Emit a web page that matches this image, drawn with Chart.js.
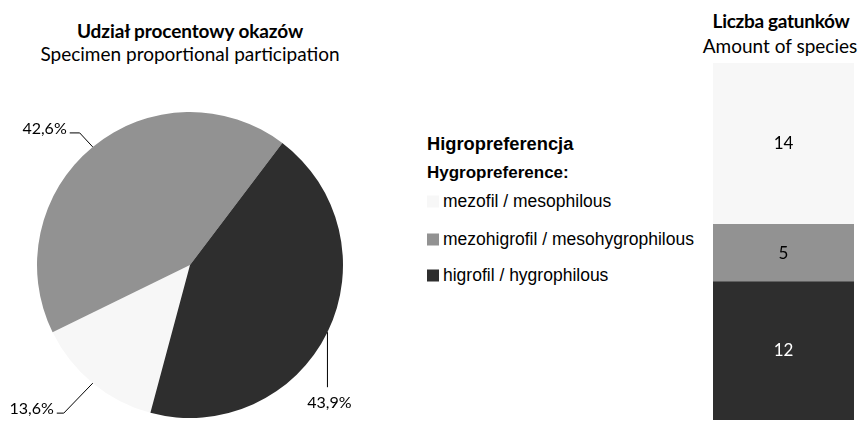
<!DOCTYPE html>
<html>
<head>
<meta charset="utf-8">
<script src="https://cdn.jsdelivr.net/npm/chart.js@4.4.0/dist/chart.umd.min.js"></script>
<style>
  body { margin: 0; background: #fff; }
  #page { position: relative; width: 859px; height: 423px; overflow: hidden; font-family: Lato, sans-serif; color: #000; }
  .t { position: absolute; white-space: nowrap; transform: translate(-50%, -50%); }
  .b { font-weight: bold; }
  #pieBox { position: absolute; left: 0; top: 100px; width: 380px; height: 323px; }
  #barBox { position: absolute; left: 713px; top: 63px; width: 141px; height: 357px; }
  #legend { position: absolute; left: 427px; top: 0; font-family: "Liberation Sans", Arial, sans-serif; }
  .lg { position: absolute; white-space: nowrap; transform: translateY(-50%); font-size: 17.5px; }
  .sw { display: inline-block; width: 12px; height: 12px; margin-right: 4px; vertical-align: -1px; }
</style>
</head>
<body>
<div id="page">
  <div class="t b" style="left:190px;top:30px;font-size:19px;letter-spacing:-0.1px">Udział procentowy okazów</div>
  <div class="t" style="left:190px;top:53px;font-size:19px">Specimen proportional participation</div>
  <div class="t b" style="left:781px;top:20px;font-size:19px;letter-spacing:-0.3px">Liczba gatunków</div>
  <div class="t" style="left:780px;top:45px;font-size:19px">Amount of species</div>

  <div id="pieBox"><canvas id="pie"></canvas></div>
  <div id="legend"></div>
  <div id="barBox"><canvas id="bar"></canvas></div>
</div>

<script>
// categories (legend order)
const categories = ["mezofil / mesophilous", "mezohigrofil / mesohygrophilous", "higrofil / hygrophilous"];
const specimenPercent = [13.6, 42.6, 43.9];
const percentLabels = ["13,6%", "42,6%", "43,9%"];
const speciesCount = [14, 5, 12];
const legendTitle = "Higropreferencja";
const legendSubtitle = "Hygropreference:";

const colors = ["#f7f7f7", "#929292", "#2e2e2e"];

// legend (html)
const legend = document.getElementById("legend");
legend.innerHTML =
  '<div class="lg b" style="top:144px;font-size:18.3px">' + legendTitle + '</div>' +
  '<div class="lg b" style="top:173px;font-size:17px">' + legendSubtitle + '</div>';
const rowY = [201, 239, 275];
categories.forEach(function (c, i) {
  legend.innerHTML += '<div class="lg" style="top:' + rowY[i] + 'px"><span class="sw" style="background:' +
    colors[i] + '"></span>' + c + '</div>';
});

// leader lines + percent labels around the pie
const pieLabels = {
  id: "pieLabels",
  afterDatasetsDraw(chart) {
    const ctx = chart.ctx;
    const arcs = chart.getDatasetMeta(0).data;
    ctx.save();
    ctx.strokeStyle = "#000";
    ctx.lineWidth = 1;
    ctx.fillStyle = "#000";
    ctx.font = "16px Lato, sans-serif";
    ctx.textBaseline = "middle";
    arcs.forEach(function (arc, i) {
      const p = arc.getProps(["x", "y", "startAngle", "endAngle", "outerRadius"], true);
      const mid = (p.startAngle + p.endAngle) / 2;
      const ex = p.x + Math.cos(mid) * p.outerRadius;
      const ey = p.y + Math.sin(mid) * p.outerRadius;
      ctx.beginPath();
      ctx.moveTo(ex, ey);
      if (i === 0) {
        ctx.lineTo(ex - 29, ey + 30);
        ctx.lineTo(ex - 36, ey + 30);
        ctx.stroke();
        ctx.textAlign = "right";
        ctx.fillText(percentLabels[i], ex - 39, ey + 26);
      } else if (i === 1) {
        ctx.lineTo(ex - 13, ey - 14);
        ctx.lineTo(ex - 23, ey - 14);
        ctx.stroke();
        ctx.textAlign = "right";
        ctx.fillText(percentLabels[i], ex - 26, ey - 18);
      } else {
        ctx.lineTo(ex, ey + 55);
        ctx.stroke();
        ctx.textAlign = "center";
        ctx.fillText(percentLabels[i], ex + 2, ey + 71);
      }
    });
    ctx.restore();
  }
};

new Chart(document.getElementById("pie"), {
  type: "pie",
  data: {
    labels: categories,
    datasets: [{
      data: specimenPercent,
      backgroundColor: colors,
      borderWidth: 0
    }]
  },
  options: {
    responsive: true,
    maintainAspectRatio: false,
    animation: false,
    rotation: 195,
    layout: { padding: { left: 37, right: 37, top: 12, bottom: 5 } },
    plugins: { legend: { display: false }, tooltip: { enabled: false } }
  },
  plugins: [pieLabels]
});

// value labels inside the stacked bar
const barLabels = {
  id: "barLabels",
  afterDatasetsDraw(chart) {
    const ctx = chart.ctx;
    ctx.save();
    ctx.font = "17px Lato, sans-serif";
    ctx.textAlign = "center";
    ctx.textBaseline = "middle";
    chart.data.datasets.forEach(function (ds, d) {
      chart.getDatasetMeta(d).data.forEach(function (bar, j) {
        const p = bar.getProps(["x", "y", "base"], true);
        ctx.fillStyle = ds.labelColor;
        ctx.fillText(String(ds.data[j]), p.x, (p.y + p.base) / 2);
      });
    });
    ctx.restore();
  }
};

// stack bottom-up: higrofil, mezohigrofil, mezofil
const order = [2, 1, 0];
new Chart(document.getElementById("bar"), {
  type: "bar",
  data: {
    labels: [""],
    datasets: order.map(function (i) {
      return {
        label: categories[i],
        data: [speciesCount[i]],
        backgroundColor: colors[i],
        borderWidth: 0,
        barPercentage: 1,
        categoryPercentage: 1,
        labelColor: i === 2 ? "#ffffff" : "#000000"
      };
    })
  },
  options: {
    responsive: true,
    maintainAspectRatio: false,
    animation: false,
    layout: { padding: 0 },
    scales: {
      x: { stacked: true, display: false },
      y: { stacked: true, display: false, min: 0, max: 31 }
    },
    plugins: { legend: { display: false }, tooltip: { enabled: false } }
  },
  plugins: [barLabels]
});
</script>
</body>
</html>
